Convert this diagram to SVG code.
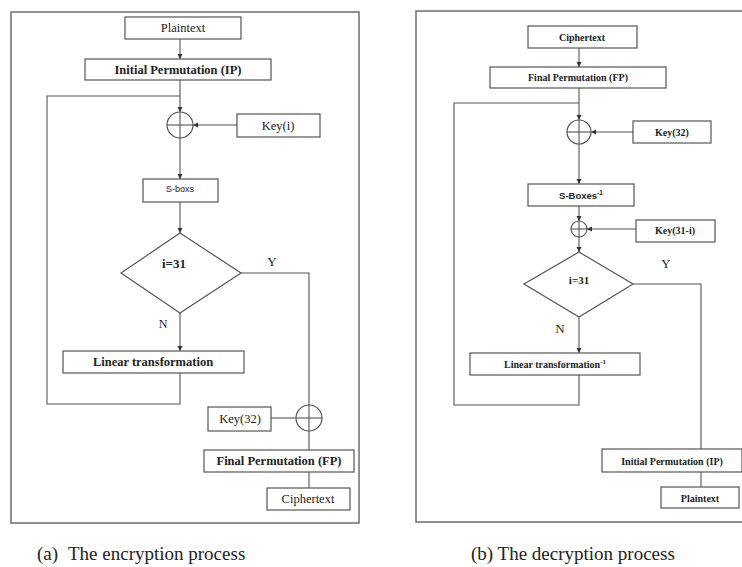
<svg xmlns="http://www.w3.org/2000/svg" width="742" height="567" viewBox="0 0 742 567">
<style>
.frame{fill:none;stroke:#6e6e6e;stroke-width:1.5}
.box{fill:#fff;stroke:#555;stroke-width:1.2}
.ln{fill:none;stroke:#555;stroke-width:1.1}
.ar{fill:none;stroke:#555;stroke-width:1.1;marker-end:url(#ah)}
.t{font-family:"Liberation Serif","Times New Roman",serif;fill:#222;text-anchor:middle}
.b{font-weight:bold}
.s{font-family:"Liberation Sans",Arial,sans-serif;fill:#222;text-anchor:middle}
.cap{font-family:"Liberation Serif","Times New Roman",serif;fill:#222;font-size:19px}
</style>
<defs>
<marker id="ah" markerWidth="6" markerHeight="6" refX="5" refY="3" orient="auto" markerUnits="userSpaceOnUse">
<path d="M0,0.5 L5,3 L0,5.5 Z" fill="#333"/>
</marker>
</defs>
<rect width="742" height="567" fill="#fff"/>

<!-- ===== Panel (a) ===== -->
<rect class="frame" x="11" y="12" width="348" height="511"/>
<g id="connectors-a">
<line class="ar" x1="180" y1="39" x2="180" y2="59"/>
<line class="ar" x1="180" y1="80" x2="180" y2="112"/>
<polyline class="ln" points="180,373 180,404 47,404 47,96 180,96"/>
<line class="ar" x1="237" y1="125" x2="193" y2="125"/>
<line class="ar" x1="180" y1="138" x2="180" y2="179"/>
<line class="ar" x1="180" y1="202" x2="180" y2="233"/>
<line class="ar" x1="180" y1="313" x2="180" y2="351"/>
<polyline class="ln" points="241,273 309,273 309,450"/>
<line class="ln" x1="271" y1="418" x2="296" y2="418"/>
<line class="ln" x1="309" y1="472" x2="309" y2="488"/>
</g>
<g id="a-plaintext"><rect class="box" x="125" y="17" width="116" height="22"/><text class="t" x="183" y="32" font-size="12.5">Plaintext</text></g>
<g id="a-ip"><rect class="box" x="85" y="59" width="186" height="21"/><text class="t b" x="178" y="74" font-size="12.5">Initial Permutation (IP)</text></g>
<g id="a-xor1"><circle class="box" cx="180" cy="125" r="13"/><line class="ln" x1="167" y1="125" x2="193" y2="125"/><line class="ln" x1="180" y1="112" x2="180" y2="138"/></g>
<g id="a-key"><rect class="box" x="237" y="114" width="83" height="23"/><text class="t" x="278" y="130" font-size="12.5">Key(i)</text></g>
<g id="a-sbox"><rect class="box" x="143" y="179" width="75" height="23"/><text class="s" x="180" y="192" font-size="9">S-boxs</text></g>
<g id="a-dec"><polygon class="box" points="180,233 241,273 180,313 121,273"/><text class="t b" x="174" y="268" font-size="13">i=31</text></g>
<text class="t" x="272" y="266" font-size="13">Y</text>
<text class="t" x="163" y="328" font-size="12">N</text>
<g id="a-lt"><rect class="box" x="63" y="351" width="181" height="22"/><text class="t b" x="153" y="366" font-size="12.5">Linear transformation</text></g>
<g id="a-key32"><rect class="box" x="208" y="407" width="63" height="24"/><text class="t" x="240" y="423" font-size="12.5">Key(32)</text></g>
<g id="a-xor2"><circle class="box" cx="309" cy="418" r="13"/><line class="ln" x1="296" y1="418" x2="322" y2="418"/><line class="ln" x1="309" y1="405" x2="309" y2="431"/></g>
<g id="a-fp"><rect class="box" x="204" y="450" width="150" height="22"/><text class="t b" x="279" y="465" font-size="12.5">Final Permutation (FP)</text></g>
<g id="a-cipher"><rect class="box" x="267" y="488" width="83" height="22"/><text class="t" x="308" y="503" font-size="12.5">Ciphertext</text></g>
<text class="cap" x="37" y="560">(a)</text>
<text class="cap" x="68" y="560">The encryption process</text>

<!-- ===== Panel (b) ===== -->
<rect class="frame" x="416" y="11" width="345" height="511"/>
<g id="connectors-b">
<line class="ar" x1="579" y1="48" x2="579" y2="67"/>
<line class="ar" x1="579" y1="88" x2="579" y2="120"/>
<polyline class="ln" points="579,375 579,405 454,405 454,103 579,103"/>
<line class="ar" x1="633" y1="132" x2="591" y2="132"/>
<line class="ar" x1="579" y1="144" x2="579" y2="184"/>
<line class="ar" x1="579" y1="206" x2="579" y2="221"/>
<line class="ar" x1="636" y1="229" x2="587" y2="229"/>
<line class="ar" x1="579" y1="237" x2="579" y2="252"/>
<line class="ar" x1="579" y1="317" x2="579" y2="353"/>
<polyline class="ln" points="633,284 701,284 701,449"/>
<line class="ln" x1="701" y1="472" x2="701" y2="487"/>
</g>
<g id="b-cipher"><rect class="box" x="528" y="26" width="109" height="22"/><text class="t b" x="582" y="41" font-size="10">Ciphertext</text></g>
<g id="b-fp"><rect class="box" x="490" y="67" width="176" height="21"/><text class="t b" x="578" y="81" font-size="10">Final Permutation (FP)</text></g>
<g id="b-xor1"><circle class="box" cx="579" cy="132" r="12"/><line class="ln" x1="567" y1="132" x2="591" y2="132"/><line class="ln" x1="579" y1="120" x2="579" y2="144"/></g>
<g id="b-key32"><rect class="box" x="633" y="121" width="78" height="22"/><text class="t b" x="672" y="136" font-size="10">Key(32)</text></g>
<g id="b-sbox"><rect class="box" x="528" y="184" width="106" height="22"/><text class="s b" x="581" y="199" font-size="9.5">S-Boxes<tspan dy="-4" font-size="6.5">-1</tspan></text></g>
<g id="b-xor2"><circle class="box" cx="579" cy="229" r="8"/><line class="ln" x1="571" y1="229" x2="587" y2="229"/><line class="ln" x1="579" y1="221" x2="579" y2="237"/></g>
<g id="b-key31"><rect class="box" x="636" y="220" width="79" height="22"/><text class="t b" x="675" y="234" font-size="10">Key(31-i)</text></g>
<g id="b-dec"><polygon class="box" points="579,252 633,284 579,317 524,284"/><text class="t b" x="579" y="284" font-size="11">i=31</text></g>
<text class="t" x="666" y="268" font-size="13">Y</text>
<text class="t" x="560" y="333" font-size="13">N</text>
<g id="b-lt"><rect class="box" x="470" y="353" width="170" height="22"/><text class="t b" x="555" y="368" font-size="10">Linear transformation<tspan dy="-4" font-size="7">-1</tspan></text></g>
<g id="b-ip"><rect class="box" x="602" y="449" width="140" height="23"/><text class="t b" x="672" y="465" font-size="10">Initial Permutation (IP)</text></g>
<g id="b-plain"><rect class="box" x="661" y="487" width="78" height="21"/><text class="t b" x="700" y="502" font-size="10">Plaintext</text></g>
<text class="cap" x="471" y="560">(b) The decryption process</text>
</svg>
